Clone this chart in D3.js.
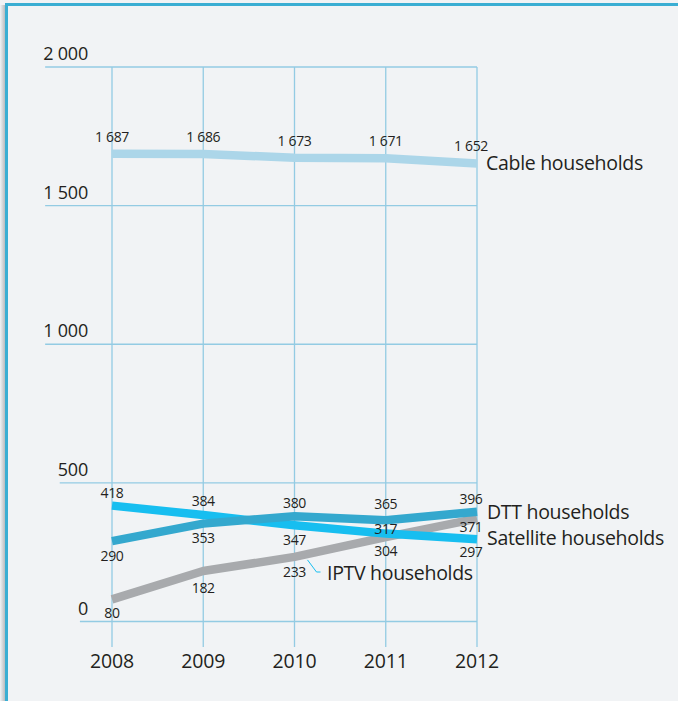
<!DOCTYPE html>
<html><head><meta charset="utf-8">
<script src="https://cdn.jsdelivr.net/npm/d3@7"></script>
<style>
html,body{margin:0;padding:0;background:#f1f3f5;}
svg{display:block;}
text{font-family:"Open Sans",sans-serif;fill:#231f20;}
</style></head>
<body><svg id="c" width="678" height="701"></svg>
<script>
const years = [2008, 2009, 2010, 2011, 2012];
const yTicks = [0, 500, 1000, 1500, 2000];
const yTickLabels = ["0", "500", "1 000", "1 500", "2 000"];
const seriesNames = ["IPTV households", "Satellite households", "DTT households", "Cable households"];
const iptv = [80, 182, 233, 304, 371];
const satellite = [418, 384, 347, 317, 297];
const dtt = [290, 353, 380, 365, 396];
const cable = [1687, 1686, 1673, 1671, 1652];

const svg = d3.select("#c");
const W = 678, H = 701;
// frame
svg.append("rect").attr("x",0).attr("y",0).attr("width",W).attr("height",H).attr("fill","#f1f3f5");
const defs = svg.append("defs");
const g1 = defs.append("linearGradient").attr("id","sh").attr("x1",0).attr("x2",1);
g1.append("stop").attr("offset",0).attr("stop-color","#f1f3f5");
g1.append("stop").attr("offset",1).attr("stop-color","#b9bcbf");
svg.append("rect").attr("x",0).attr("y",5).attr("width",5).attr("height",H).attr("fill","url(#sh)");
svg.append("line").attr("x1",6.5).attr("x2",6.5).attr("y1",3).attr("y2",H).attr("stroke","#3aaed3").attr("stroke-width",3);
svg.append("line").attr("x1",5).attr("x2",W).attr("y1",4.5).attr("y2",4.5).attr("stroke","#3aaed3").attr("stroke-width",3);

const x = d3.scalePoint().domain(years).range([112, 477]);
const y = d3.scaleLinear().domain([0, 2000]).range([621.5, 67]);
const gridColor = "#93cbe3";

// vertical grid
svg.append("g").selectAll("line").data(years).join("line")
  .attr("x1", d => x(d)).attr("x2", d => x(d))
  .attr("y1", y(2000)).attr("y2", 647)
  .attr("stroke", gridColor).attr("stroke-width", 1.3);

// y labels + horizontal grid starting at label's left edge
const yl = svg.append("g");
yTicks.forEach((t, i) => {
  const tx = yl.append("text").attr("x", 88).attr("y", y(t) - 7)
    .attr("text-anchor", "end").attr("font-size", 18).attr("letter-spacing", -0.2).text(yTickLabels[i]);
  const bb = tx.node().getBBox();
  yl.insert("line", "text").attr("x1", bb.x + 2).attr("x2", x(2012)).attr("y1", y(t)).attr("y2", y(t))
    .attr("stroke", gridColor).attr("stroke-width", 1.3);
});

// x labels
svg.append("g").selectAll("text").data(years).join("text")
  .attr("x", d => x(d)).attr("y", 668).attr("text-anchor", "middle")
  .attr("font-size", 19.5).attr("letter-spacing", -0.2).text(d => d);

const series = [
  {name: seriesNames[0], values: iptv, color: "#a8aaad"},
  {name: seriesNames[1], values: satellite, color: "#17bef0"},
  {name: seriesNames[2], values: dtt, color: "#34a8ce"},
  {name: seriesNames[3], values: cable, color: "#acd6e9"}
];
const line = d3.line().x((d, i) => x(years[i])).y(d => y(d));
svg.append("g").selectAll("path").data(series).join("path")
  .attr("d", d => line(d.values)).attr("fill", "none")
  .attr("stroke", d => d.color).attr("stroke-width", 8.5).attr("stroke-linejoin", "round");

// value label vertical offsets (px, relative to point)
const labelDy = {
  "IPTV households":      [19, 22, 20, 19, 13],
  "Satellite households": [-8, -9, 20, 0, 18],
  "DTT households":       [20, 19, -8, -11, -8],
  "Cable households":     [-12, -12, -12, -12, -12]
};
const labelDx = [0, 0, 0, 0, -6];
const fmt = v => v >= 1000 ? d3.format(",")(v).replace(",", " ") : String(v);
const lg = svg.append("g");
series.forEach(s => {
  s.values.forEach((v, i) => {
    lg.append("text").attr("x", x(years[i]) + labelDx[i]).attr("y", y(v) + labelDy[s.name][i])
      .attr("text-anchor", "middle").attr("font-size", 14).attr("letter-spacing", -0.3)
      .text(fmt(v));
  });
});

// series names
const nameFs = 19.5;
const ls = -0.3;
svg.append("text").attr("x", 486).attr("y", 170).attr("font-size", nameFs).attr("letter-spacing", ls).text(seriesNames[3]);
svg.append("text").attr("x", 487).attr("y", 519).attr("font-size", nameFs).attr("letter-spacing", ls).text(seriesNames[2]);
svg.append("text").attr("x", 487).attr("y", 545).attr("font-size", nameFs).attr("letter-spacing", ls).text(seriesNames[1]);
svg.append("text").attr("x", 327).attr("y", 580).attr("font-size", nameFs).attr("letter-spacing", ls).text(seriesNames[0]);
// leader for IPTV label
const lx = x(2010) + 13, ly = y(iptv[2]) + 3;
svg.append("path").attr("d", `M${lx},${ly} L${lx + 9},${572} L${lx + 13},${572}`)
  .attr("fill", "none").attr("stroke", "#17bef0").attr("stroke-width", 1);
</script></body></html>
